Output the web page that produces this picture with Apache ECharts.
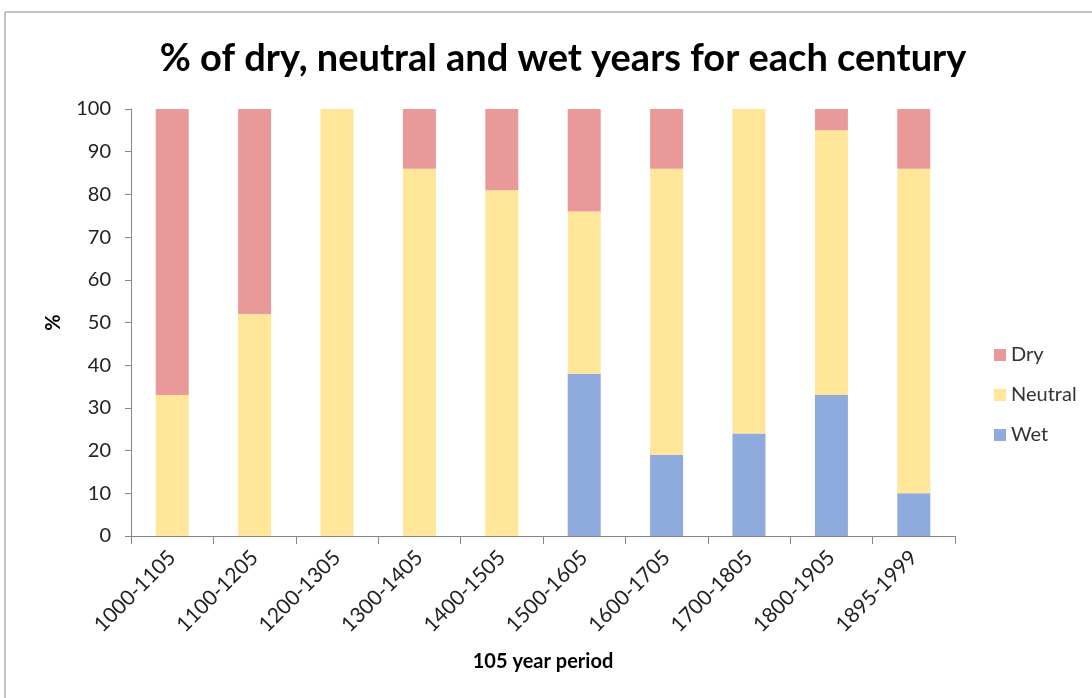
<!DOCTYPE html>
<html>
<head>
<meta charset="utf-8">
<script src="https://cdn.jsdelivr.net/npm/echarts@6/dist/echarts.min.js"></script>
<style>
html,body{margin:0;padding:0;background:#fff;}
#chart{width:1092px;height:698px;}
</style>
</head>
<body>
<div id="chart"></div>
<script>
const categories = ['1000-1105','1100-1205','1200-1305','1300-1405','1400-1505','1500-1605','1600-1705','1700-1805','1800-1905','1895-1999'];
const wet     = [0, 0, 0, 0, 0, 38, 19, 24, 33, 10];
const neutral = [33, 52, 100, 86, 81, 38, 67, 76, 62, 76];
const dry     = [67, 48, 0, 14, 19, 24, 14, 0, 5, 14];
const yTicks = [0,10,20,30,40,50,60,70,80,90,100];

const FONT = 'Lato, "Open Sans", sans-serif';
const chart = echarts.init(document.getElementById('chart'));
chart.setOption({
  animation: false,
  backgroundColor: '#fff',
  graphic: [{
    type: 'rect', shape: {x: 5, y: 12, width: 1100, height: 700},
    style: {fill: 'none', stroke: '#8a8a8a', lineWidth: 1}, silent: true
  }],
  title: {
    text: '% of dry, neutral and wet years for each century',
    left: 558, top: 35, textAlign: 'center',
    textStyle: {fontFamily: FONT, fontWeight: 'bold', fontSize: 38, color: '#000'}
  },
  legend: {
    orient: 'vertical', left: 989, top: 340, itemGap: 20,
    itemWidth: 12, itemHeight: 12, icon: 'rect',
    data: ['Dry', 'Neutral', 'Wet'],
    textStyle: {fontFamily: FONT, fontSize: 20, color: '#333'}
  },
  grid: {left: 131, right: 137, top: 109, bottom: 162},
  xAxis: {
    type: 'category', data: categories,
    name: '105 year period', nameLocation: 'middle', nameGap: 116,
    nameTextStyle: {fontFamily: FONT, fontWeight: 'bold', fontSize: 20, color: '#000'},
    axisLine: {lineStyle: {color: '#868686'}},
    axisTick: {show: true, alignWithLabel: false, length: 8, lineStyle: {color: '#868686'}},
    axisLabel: {rotate: 45, fontFamily: FONT, fontSize: 21, color: '#222', margin: 18, interval: 0}
  },
  yAxis: {
    type: 'value', min: 0, max: 100, interval: 10,
    name: '%', nameLocation: 'middle', nameGap: 67, nameRotate: 90,
    nameTextStyle: {fontFamily: FONT, fontWeight: 'bold', fontSize: 20, color: '#000'},
    axisLine: {show: true, lineStyle: {color: '#868686'}},
    axisTick: {show: true, length: 6, lineStyle: {color: '#868686'}},
    splitLine: {show: false},
    axisLabel: {fontFamily: FONT, fontSize: 20, color: '#222', margin: 20,
      formatter: v => yTicks.includes(v) ? String(v) : ''}
  },
  series: [
    {name: 'Wet', type: 'bar', stack: 't', data: wet, barWidth: 33, itemStyle: {color: '#8FAADC'}},
    {name: 'Neutral', type: 'bar', stack: 't', data: neutral, barWidth: 33, itemStyle: {color: '#FFE699'}},
    {name: 'Dry', type: 'bar', stack: 't', data: dry, barWidth: 33, itemStyle: {color: '#EA9999'}}
  ]
});
</script>
</body>
</html>
